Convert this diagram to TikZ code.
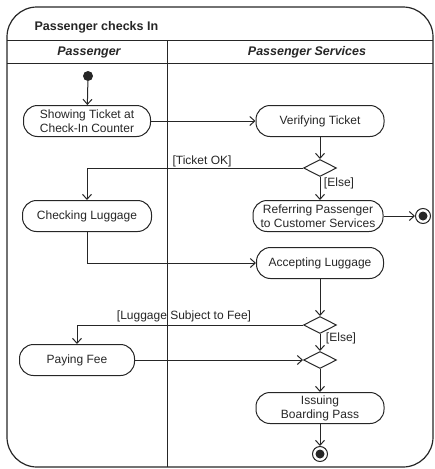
\documentclass[tikz,border=0pt]{standalone}
\usepackage{fontspec}
\setmainfont{Liberation Sans}
\usetikzlibrary{shapes.geometric,arrows.meta}
\begin{document}
\begin{tikzpicture}[x=1pt,y=-1pt,
  every node/.style={font=\fontsize{12}{14}\selectfont, text=black!85},
  ln/.style={line width=1pt, draw=black!85},
  act/.style={ln, draw, rounded corners=14pt, minimum height=31pt, align=center, inner sep=2pt},
  dec/.style={ln, draw, diamond, inner sep=0pt, minimum width=33pt, minimum height=17pt},
  flow/.style={ln, -{Straight Barb[length=5pt,width=9pt]}},
  plain/.style={ln},
  guard/.style={inner sep=1pt},
  startnode/.style={circle, fill=black!85, minimum size=10pt, inner sep=0pt},
  endnode/.style={circle, ln, draw, minimum size=15pt, inner sep=0pt,
     path picture={\fill[black!85] (path picture bounding box.center) circle (4.5pt);}},
  hdr/.style={font=\fontsize{12.5}{14}\selectfont\bfseries\itshape}
]
\useasboundingbox (0,0) rectangle (435,469);
% frame and lanes
\draw[ln, line width=1.2pt, rounded corners=30pt] (7,7) rectangle (433,467);
\draw[ln] (7,40) -- (433,40);
\draw[ln] (7,63) -- (433,63);
\draw[ln] (167,40) -- (167,467);
\node[font=\fontsize{12.5}{14}\selectfont\bfseries, anchor=west] (title) at (31,27) {Passenger checks In};
\node[hdr] (lane1) at (89,52) {Passenger};
\node[hdr] (lane2) at (307,52) {Passenger Services};

% nodes
\node[startnode] (init) at (88,76) {};
\node[act, minimum width=127pt] (show) at (87,121) {Showing Ticket at\\Check-In Counter};
\node[act, minimum width=128pt] (verify) at (320,121) {Verifying Ticket};
\node[dec] (d1) at (320,168) {};
\node[act, minimum width=129pt] (check) at (87,216) {Checking Luggage};
\node[act, minimum width=130pt] (refer) at (318,216) {Referring Passenger\\to Customer Services};
\node[endnode] (fin1) at (423,216) {};
\node[act, minimum width=127pt] (accept) at (320,263) {Accepting Luggage};
\node[dec] (d2) at (320,325) {};
\node[act, minimum width=115pt] (pay) at (77,360) {Paying Fee};
\node[dec] (d3) at (320,360) {};
\node[act, minimum width=128pt] (issue) at (320,408) {Issuing\\Boarding Pass};
\node[endnode] (fin2) at (320,454) {};

% guards
\node[guard] (g1) at (202,161) {[Ticket OK]};
\node[guard] (g2) at (339,183) {[Else]};
\node[guard] (g3) at (184,316) {[Luggage Subject to Fee]};
\node[guard] (g4) at (341,338) {[Else]};

% connectors
\draw[flow] (init) -- (show);
\draw[flow] (show.east) -- (show.east -| verify.west);
\draw[flow] (verify) -- (d1);
\draw[flow] (d1.west) -| (check.north);
\draw[flow] (d1.south) -- (refer.north -| d1.south);
\draw[flow] (refer.east) -- (fin1);
\draw[flow] (check.south) |- (accept.west);
\draw[flow] (accept.south -| d2.north) -- (d2.north);
\draw[flow] (d2.west) -| (pay.north);
\draw[flow] (d2.south) -- (d3.north);
\draw[flow] (pay.east) -- (d3.west);
\draw[flow] (d3.south) -- (issue.north -| d3.south);
\draw[flow] (issue.south -| fin2.north) -- (fin2.north);
\end{tikzpicture}
\end{document}
